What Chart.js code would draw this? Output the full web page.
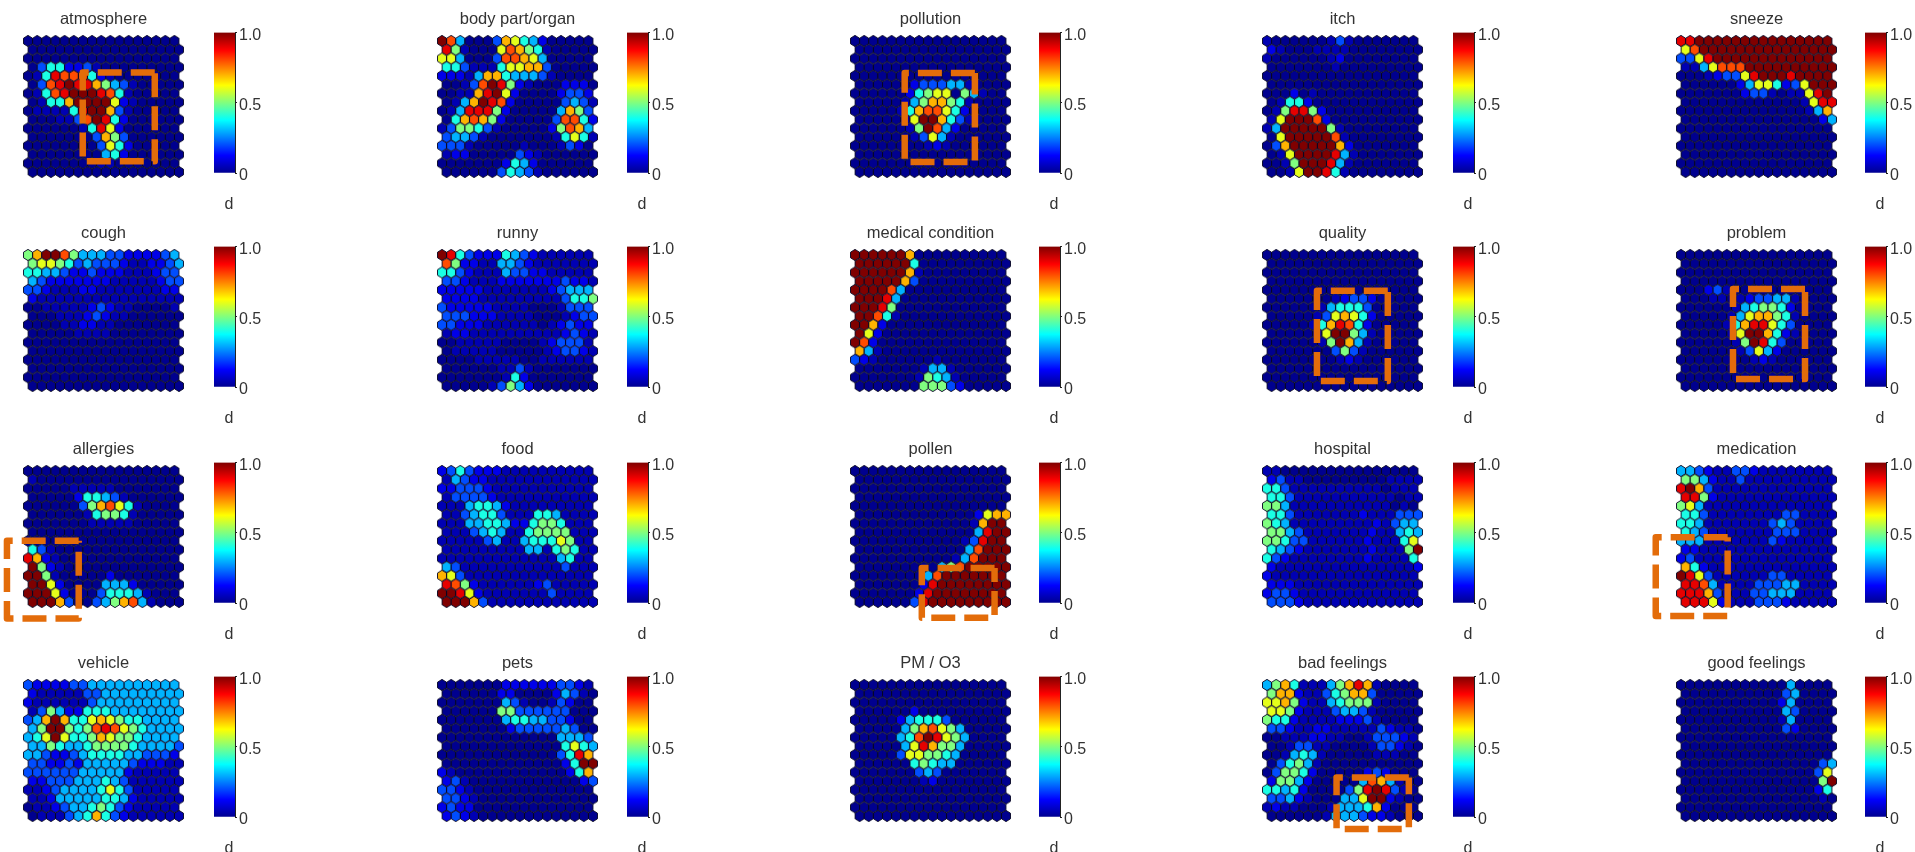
<!DOCTYPE html>
<html>
<head>
<meta charset="utf-8">
<style>
	html, body {margin: 0; padding: 0; background: #fff; width: 1915px; height: 852px; overflow: hidden;}
	canvas {position: absolute; filter: blur(0.35px);}
</style>
<script src="https://cdn.jsdelivr.net/npm/chart.js@4"></script>
</head>
<body>
<script>
//Each map is 16 rows of 17 cells. 0=0 .=0.04 1=0.1 ... 9=0.9 a=1
const atmosphere = ["00000000000000000","00000000000000000","00000000000000000","0244112.000000000","0.4988841.0000000","0289a997532.00000","0.489aaa984.00000","0.447aaaa61.00000","0....49aa72.00000","000..28a941000000","000000.4961000000","00000002752000000","00000000264100000","00000000341000000","00000000..0000000","00000000000000000"];
const bodyPart = ["a8300027643100000","95.00068754.00000","66300028876300000","442...46677200000","111.37743332.0000","00.28a951.0001110","00..79a6100001221","0.37a98100000232.","0.399951000003752","04787510000028841",".25542.0000015873","2332.0000000.464.","222.00000.000.210",".110000021.000000","00000001431000000","0000002432.000000"];
const pollution = ["00000000000000000","00000000000000000","00000000000000000","00000000000000000","00000000000000000","000000122233.0000","00000014566 53.000","00000.357754.0000","00000.47886410000","00000.6aa742.0000","000000.5a83100000","000000.263.000000","00000000.1.000000","00000000000000000","00000000000000000","00000000000000000"];
const itch = [".000000.2.0000000","1.000....00000000",".000000.100000000","0000000.000000000","00000000000000000","00000000000000000","00010.00000000000","0.441000000000000","0.599510000000000",".6aaa810000000000",".3aaaaa5.00000000","06aaaaa8.00000000","027aaaaa710000000","0.6aaaa93.0000000","00.5aaa93.0000000","00.6aa94.00000000"];
const sneeze = ["99aaaaaaaaaaaaaaa","68aaaaaaaaaaaaaaa","2269aaaaaaaaaaaaa","..36888aaaaaaaaaa","000.12269aaa9aaaa","00000013664126aaa","0000000122.0..69a","0000000000000.699","00000000000000.37","00000000000000013","00000000000000000","00000000000000000","00000000000000000","00000000000000000","00000000000000000","00000000000000000"];
const cough = ["57aa8533322111123","56654232221..1123","44332112111...122","321111111.....122","221...11.......11","1................","00.....121..0000.","000...121..000000","0000..11..0000000","00000....00000000","00000000000000000","00000000000000000","00000000000000000","00000000000000000","00000000000000000","00000000000000000"];
const runny = ["a9421114321......","8511..3321.......","4421...32211.....","221...1111111211.","11111.......12333","1111.........2445","211111....000.222","222111....000.122","22111......0.1211",".11..........121.","00.....0000.1222.","0.....00000.1221.","0000.....00......","000000..2.0000000","0000000.410000000","00000.25310000000"];
const medicalCondition = ["aaaaaa70000000000","aaaaaa40000000000","aaaaaa7.000000000","aaaaa720000000000","aaaa8300000000000","aaa93000000000000","aaa95000000000000","aa84.000000000000","aa710000000000000","a6100000000000000","a8100000000000000","73.00000000000000","21.000000.0000000","0000000.33.000000","0000000.543.00000","00000005552100000"];
const quality = ["00000000000000000","00000000000000000","00000000000000000","00000000000000000","00000000000000000","0000000.122100000","000000.3444200000","00000.26764100000","00000.47984100000","00000.6aa53.00000","000000.5a73.00000","0000000252.000000","00000000.1.000000","00000000000000000","00000000000000000","00000000000000000"];
const problem = ["00000000000000000","00000000000000000","00000000000000000","00000000000000000","00012.00000000000","000..0.12233.0000","000000.3455410000","00000.367754.0000","00000.47996420000","00000.6aa741.0000","000000.5a94200000","000000.2631000000","00000000.1.000000","00000000000000000","00000000000000000","00000000000000000"];
const allergies = ["00000000000000000",".0000000000000000","00000.....0000000","0000014432.000000","000000257864.0000","000000.4554.00000","0000000.....00000","00000000000000000","00000000000000000","42.00000000000000","971.0000000000000","a51.0000000000000","aa5.0000010000000","aa610000333100000","aaa6100024443.000","aaa7200235783.000"];
const food = ["1242111..........",".3211............","112221...........",".22221...........","...34431.........","..23442...443....","...33443114554...","...2343..45555...",".....23..344465..",".........33.454..",".............34..","32...........2...","762..............","9851......12.....","aa961.......2....","aaa72............"];
const pollen = ["00000000000000000","00000000000000000","00000000000000000","00000000000000000","00000000000000000","00000000000001677","0000000000000.7aa","000000000000039aa","000000000000.29aa","00000000000038aaa","00000000000.38aaa","000000000358aaaaa","0000000038aaaaaaa","000000019aaaaaaaa","000000019aaaaaaaa","00000029aaaaaaaaa"];
const hospital = ["..000000000000000","12..000000000....","442..........0...","442...........0..","553...........0.0","442.......1...222","543.........1.233","5532.......1..343","55422......1...46","4321.......1...5a","421........1....4","1...............1","1................","111..............","1221.............","2221............."];
const medication = ["3321..221........","5531..2..........","9a72.............","9951.............","563..............","442........22....","443.......232....","432.......222....","333.......21.....","11...............","12...............","741..............","a962......22.....","9983....22233....","99972...22333....","99961...2221....."];
const vehicle = ["21111223333333333","1.....22333333333","1......2333333333",".2531144433333333","237a7446765443333","35aa5458986543333","346a6445765543333","33543345555433332","33211234444332221","221121333332111..","222222333331.....","11222333432......","..1233334642.....","..1333334431.....","0..123345421.....","0...2347421......"];
const pets = ["0000000111111221.","000000110000132.0","000000032.00.2100","00000055222222000","00000003443322100","00000001222223200","00000000000003332","00000000000004643","00000000000002497","000000000000014aa","1.000000000000147","12.00000000000012","221.0000000000000","221.0000000000000","12110000000000000","121.0000000000000"];
const pm03 = ["00000000000000000","00000000000000000","00000000000000000","00000010000000000","00000134442000000","00000357865300000","00000348a96530000","00000369755300000","00000266554300000","00000045433000000","00000002320000000","0000000.100000000","00000000000000000","00000000000000000","00000000000000000","00000000000000000"];
const badFeelings = ["35 74...35797.0000".replace(" ",""),"577 1..24577200000".replace(" ",""),"66751..34555.0000","6651...2332.00000","5441....1112.0000","221..11.....21..0","00...11..00.2221.","00.22..0000.221.0","00.343.00000...00","02453.00000000000","02554100000121000","15531000003873.00","443410000259a92.0","2231.000336aa1.00",".1..000.333471000","000000.333211.000"];
const goodFeelings = ["00000000000030000","00000000000230000","00000000000130000","00000000000320000","00000000000.30000","00000000000210000","00000000000000000","00000000000000000","00000000000000000","00000000000000023","00000000000000026","0000000000000005a","00000000000000014","000000000000000.0","00000000000000000","00000000000000000"];

const panelTitles = ["atmosphere","body part/organ","pollution","itch","sneeze","cough","runny","medical condition","quality","problem","allergies","food","pollen","hospital","medication","vehicle","pets","PM / O3","bad feelings","good feelings"];
const panelMaps = [atmosphere,bodyPart,pollution,itch,sneeze,cough,runny,medicalCondition,quality,problem,allergies,food,pollen,hospital,medication,vehicle,pets,pm03,badFeelings,goodFeelings];
const colorbarTicks = [0, 0.5, 1];
const colorbarLabel = "d";
//Dashed boxes in map units: left, top, right, bottom
const highlightBoxes = {
	"atmosphere": [5.98, 3.6, 13.85, 13.78],
	"pollution": [5.43, 3.67, 13.1, 13.86],
	"quality": [5.46, 4.09, 13.2, 14.43],
	"problem": [5.68, 3.9, 13.55, 14.2],
	"allergies": [-2.3, 8.0, 5.54, 16.9],
	"pollen": [7.3, 11.1, 15.25, 16.8],
	"medication": [-2.76, 7.6, 5.1, 16.6],
	"bad feelings": [7.6, 10.6, 15.5, 16.5]
};

const cellValues = {"0": 0, ".": 0.04, "1": 0.1, "2": 0.2, "3": 0.3, "4": 0.4, "5": 0.5, "6": 0.6, "7": 0.7, "8": 0.8, "9": 0.9, "a": 1};
const jetStops = [[0, "#00008f"], [0.125, "#0000ff"], [0.375, "#00ffff"], [0.625, "#ffff00"], [0.875, "#ff0000"], [1, "#800000"]];

const mapLeft = [28.3, 441.5, 855, 1267, 1681];
const mapTop = [41, 255, 471, 685];
const barLeft = [210.5, 624, 1036, 1450, 1862];
const CELL_W = 9.15;
const CELL_H = 8.73;
const FONT = "'Liberation Sans', Arial, sans-serif";

function jetColor(v) {
	const hex = c => [1, 3, 5].map(i => parseInt(c.substr(i, 2), 16));
	for (let i = 1; i < jetStops.length; i++) {
		if (v <= jetStops[i][0]) {
			const t = (v - jetStops[i - 1][0]) / (jetStops[i][0] - jetStops[i - 1][0]);
			const a = hex(jetStops[i - 1][1]);
			const b = hex(jetStops[i][1]);
			return "rgb(" + a.map((n, k) => Math.round(n + (b[k] - n) * t)).join(",") + ")";
		}
	}
	return jetStops[jetStops.length - 1][1];
}

//One hexagon sprite per level, used as the point style
const sprites = {};
function hexSprite(v) {
	if (!sprites[v]) {
		const c = document.createElement("canvas");
		c.width = 12;
		c.height = 14;
		const ctx = c.getContext("2d");
		const hw = CELL_W / 2 - 0.1;
		const hh = CELL_H / 1.5 - 0.2;
		ctx.beginPath();
		ctx.moveTo(6, 7 - hh);
		ctx.lineTo(6 + hw, 7 - hh / 2);
		ctx.lineTo(6 + hw, 7 + hh / 2);
		ctx.lineTo(6, 7 + hh);
		ctx.lineTo(6 - hw, 7 + hh / 2);
		ctx.lineTo(6 - hw, 7 - hh / 2);
		ctx.closePath();
		ctx.fillStyle = jetColor(v);
		ctx.fill();
		ctx.lineJoin = "round";
		ctx.lineWidth = 1;
		ctx.strokeStyle = "rgba(0,0,30,0.9)";
		ctx.stroke();
		sprites[v] = c;
	}
	return sprites[v];
}

function addCanvas(left, top, width, height) {
	const canvas = document.createElement("canvas");
	canvas.width = width;
	canvas.height = height;
	canvas.style.left = left + "px";
	canvas.style.top = top + "px";
	canvas.style.width = width + "px";
	canvas.style.height = height + "px";
	document.body.appendChild(canvas);
	return canvas;
}

function drawMap(title, rows, x0, y0) {
	const cells = [];
	rows.forEach(function(row, r) {
		for (let c = 0; c < 17; c++) {
			cells.push({x: c + (r % 2 ? 0.5 : 0), y: r, v: cellValues[row.charAt(c)] || 0});
		}
	});

	const datasets = [{
		data: cells,
		pointStyle: ctx => hexSprite(ctx.raw.v),
		pointRadius: 5,
		clip: false,
		order: 2
	}];

	const box = highlightBoxes[title];
	if (box) {
		const [l, t, r, b] = box;
		datasets.push({
			data: [{x: r, y: t}, {x: l, y: t}, {x: l, y: b}, {x: r, y: b}, {x: r, y: t}],
			showLine: true,
			pointRadius: 0,
			borderColor: "#e36c0a",
			borderWidth: 6.5,
			borderDash: [24, 9],
			borderJoinStyle: "round",
			clip: false,
			order: 1
		});
	}

	new Chart(addCanvas(x0 - 32, y0 - 41, 215, 200), {
		type: "scatter",
		data: {datasets: datasets},
		options: {
			responsive: false,
			animation: false,
			layout: {padding: {left: 32, right: 32, top: 10, bottom: 28}},
			scales: {
				x: {type: "linear", display: false, min: 0, max: 16.5},
				y: {type: "linear", display: false, min: 0, max: 15, reverse: true}
			},
			plugins: {
				legend: {display: false},
				tooltip: {enabled: false},
				title: {
					display: true,
					text: title,
					color: "#333",
					font: {family: FONT, size: 16.5, weight: "normal", lineHeight: 1.2},
					padding: {top: 0, bottom: 11.2}
				}
			}
		}
	});
}

function drawColorbar(x0, y0) {
	new Chart(addCanvas(x0 - 1, y0 - 15, 70, 190), {
		type: "bar",
		data: {
			labels: [colorbarLabel],
			datasets: [{
				data: [[0, 1]],
				barPercentage: 1,
				categoryPercentage: 1,
				backgroundColor: function(ctx) {
					const area = ctx.chart.chartArea;
					if (!area) {
						return "#00008f";
					}
					const gradient = ctx.chart.ctx.createLinearGradient(0, area.bottom, 0, area.top);
					jetStops.forEach(s => gradient.addColorStop(s[0], s[1]));
					return gradient;
				}
			}]
		},
		options: {
			responsive: false,
			animation: false,
			layout: {padding: {left: 1, top: 10, right: 0, bottom: 0}},
			scales: {
				x: {
					afterFit: s => { s.height = 38; },
					grid: {display: false},
					border: {display: false},
					ticks: {color: "#333", align: "start", padding: 14, font: {family: FONT, size: 16}}
				},
				y: {
					position: "right",
					min: 0,
					max: 1,
					afterFit: s => { s.width = 45; },
					afterBuildTicks: s => { s.ticks = colorbarTicks.map(v => ({value: v})); },
					grid: {drawOnChartArea: false, tickLength: 2, color: "#222"},
					border: {display: true, color: "#222"},
					ticks: {color: "#333", padding: 2, labelOffset: 3, font: {family: FONT, size: 16}}
				}
			},
			plugins: {
				legend: {display: false},
				tooltip: {enabled: false},
				title: {display: false}
			}
		}
	});
}

panelTitles.forEach(function(title, i) {
	const col = i % 5;
	const row = Math.floor(i / 5);
	drawMap(title, panelMaps[i], mapLeft[col], mapTop[row]);
	drawColorbar(barLeft[col], mapTop[row] - 5);
});
</script>
</body>
</html>
